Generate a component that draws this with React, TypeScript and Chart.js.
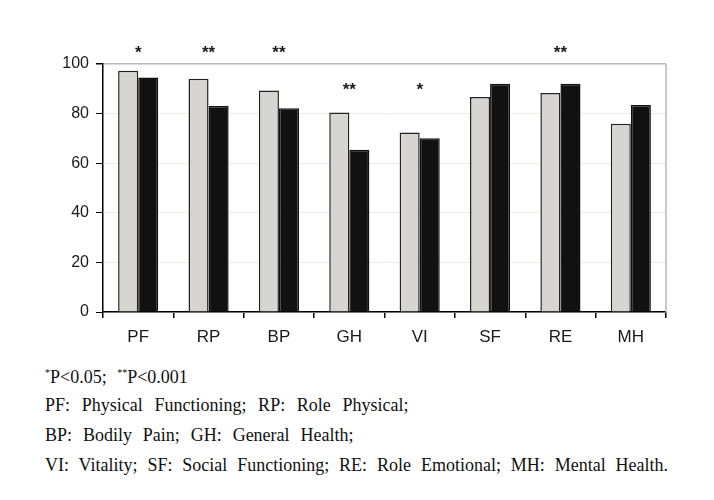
import React, { useEffect, useRef } from "react";
import { Chart, registerables } from "chart.js";

Chart.register(...registerables);

const categories = ["PF", "RP", "BP", "GH", "VI", "SF", "RE", "MH"];
const seriesGray = [97.3, 94.1, 89.3, 80.4, 72.4, 86.7, 88.3, 75.9];
const seriesBlack = [94.6, 83.1, 82.2, 65.4, 70.1, 92.0, 92.0, 83.5];
const sigLabels = ["*", "**", "**", "**", "*", "", "**", ""];
const sigValues = [106, 106, 106, 91, 91, 0, 106, 0];
const yTicks = [0, 20, 40, 60, 80, 100];

const footnoteLine1 = ["*", "P<0.05; ", "**", "P<0.001"];
const footnoteLines = [
  "PF: Physical Functioning; RP: Role Physical;",
  "BP: Bodily Pain; GH: General Health;",
  "VI: Vitality; SF: Social Functioning; RE: Role Emotional; MH: Mental Health.",
];

const sigPlugin = {
  id: "sigStars",
  afterDatasetsDraw(chart: any) {
    const { ctx, scales } = chart;
    const xs = scales.x;
    const ys = scales.y;
    ctx.save();
    ctx.strokeStyle = "#b8b8b8";
    ctx.lineWidth = 1.5;
    ctx.beginPath();
    ctx.moveTo(chart.chartArea.right, chart.chartArea.top);
    ctx.lineTo(chart.chartArea.right, chart.chartArea.bottom);
    ctx.stroke();
    ctx.font = "bold 17px 'Liberation Sans', Arial, sans-serif";
    ctx.fillStyle = "#1a1a1a";
    ctx.textAlign = "center";
    ctx.textBaseline = "alphabetic";
    sigLabels.forEach((lab, i) => {
      if (!lab) return;
      const m = ctx.measureText(lab);
      const x = xs.getPixelForValue(i);
      const y = ys.getPixelForValue(sigValues[i]);
      const shift = (m.actualBoundingBoxAscent - m.actualBoundingBoxDescent) / 2;
      ctx.fillText(lab, x, y + shift);
    });
    ctx.restore();
  },
};

export default function App() {
  const ref = useRef<HTMLCanvasElement>(null);
  useEffect(() => {
    if (!ref.current) return;
    const chart = new Chart(ref.current, {
      type: "bar",
      data: {
        labels: categories,
        datasets: [
          {
            data: seriesGray,
            backgroundColor: "#d7d5d0",
            borderColor: "#222",
            borderWidth: 1.5,
            barPercentage: 1,
            categoryPercentage: 0.57,
          },
          {
            data: seriesBlack,
            backgroundColor: "#111111",
            borderColor: "#111",
            borderWidth: 1.5,
            barPercentage: 1,
            categoryPercentage: 0.57,
          },
        ],
      },
      options: {
        responsive: false,
        animation: false,
        layout: { padding: { left: 0, right: 48, top: 64, bottom: 0 } },
        plugins: { legend: { display: false }, tooltip: { enabled: false } },
        scales: {
          x: {
            grid: {
              offset: true,
              drawOnChartArea: false,
              tickLength: 6,
              tickColor: "#000",
              lineWidth: 1.5,
            },
            border: { color: "#000", width: 1.5 },
            ticks: {
              color: "#1a1a1a",
              padding: 9,
              font: { family: "'Liberation Sans', Arial, sans-serif", size: 17 },
            },
            afterFit: (s: any) => {
              s.height = 38;
            },
          },
          y: {
            min: 0,
            max: 100,
            afterBuildTicks: (s: any) => {
              s.ticks = yTicks.map((v) => ({ value: v }));
            },
            grid: {
              color: (c: any) => (c.tick && c.tick.value === 100 ? "#b8b8b8" : "#efece8"),
              lineWidth: (c: any) => (c.tick && c.tick.value === 100 ? 1.5 : 1),
              tickLength: 7,
              tickColor: "#000",
            },
            border: { color: "#000", width: 1.5 },
            ticks: {
              color: "#1a1a1a",
              padding: 7,
              font: { family: "'Liberation Sans', Arial, sans-serif", size: 16 },
            },
            afterFit: (s: any) => {
              s.width = 103;
            },
          },
        },
      },
      plugins: [sigPlugin],
    });
    return () => chart.destroy();
  }, []);

  const noteStyle: React.CSSProperties = {
    position: "absolute",
    left: 45,
    fontFamily: "'Liberation Serif', 'Times New Roman', serif",
    fontSize: 18,
    lineHeight: "20px",
    wordSpacing: 6,
    color: "#111",
    whiteSpace: "nowrap",
  };
  const tops = [395, 425, 455];
  const spacings = [7.2, 6.4, 5.4];

  return (
    <div style={{ position: "fixed", left: 0, top: 0, width: 714, height: 500, background: "#fff" }}>
      <canvas ref={ref} width={714} height={350} style={{ position: "absolute", left: 0, top: 0, width: 714, height: 350 }} />
      <div style={{ ...noteStyle, top: 363 }}>
        <sup style={{ fontSize: 10 }}>{footnoteLine1[0]}</sup>
        {footnoteLine1[1]}
        <sup style={{ fontSize: 10 }}>{footnoteLine1[2]}</sup>
        {footnoteLine1[3]}
      </div>
      {footnoteLines.map((t, i) => (
        <div key={i} style={{ ...noteStyle, top: tops[i], wordSpacing: spacings[i] }}>
          {t}
        </div>
      ))}
    </div>
  );
}
